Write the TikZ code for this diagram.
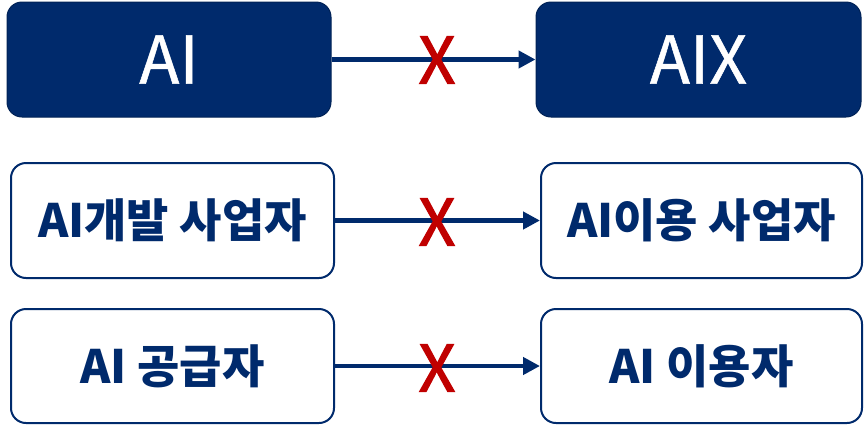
\documentclass[tikz,border=0pt]{standalone}
\usepackage{fontspec}
\setmainfont{Noto Sans CJK KR}
\newfontfamily\krfont{Noto Sans CJK KR}
\newfontfamily\krmed[FakeBold=0.8]{Noto Sans CJK KR}
\newfontfamily\krx[FakeBold=2]{Noto Sans CJK KR}
\usetikzlibrary{arrows.meta}
\definecolor{navy}{HTML}{002A6C}
\definecolor{xred}{HTML}{C00000}
\begin{document}
\begin{tikzpicture}[x=1pt,y=-1pt,
  darkbox/.style={draw=navy!80!black,line width=1pt,fill=navy,rounded corners=15pt,text=white,font=\krmed\fontsize{66}{66}\selectfont},
  lightbox/.style={draw=navy,line width=2pt,fill=white,rounded corners=15pt,text=navy,font=\krfont\bfseries\fontsize{46}{46}\selectfont},
  conn/.style={draw=navy,line width=4.5pt,-{Triangle[length=17pt,width=17pt]}},
  xmark/.style={text=xred,font=\krx\fontsize{64}{64}\selectfont,inner sep=0pt}]
\useasboundingbox (0,0) rectangle (864,426);
\node[darkbox,minimum width=324pt,minimum height=115pt] (ai) at (169,59.5) {AI};
\node[darkbox,minimum width=325pt,minimum height=115pt] (aix) at (698.5,59.5) {AIX};
\node[lightbox,minimum width=323pt,minimum height=115pt] (dev) at (172.5,220.5) {AI개발 사업자};
\node[lightbox,minimum width=321pt,minimum height=115pt] (use) at (701.5,220.5) {AI이용 사업자};
\node[lightbox,minimum width=323pt,minimum height=114pt] (sup) at (172.5,366) {AI 공급자};
\node[lightbox,minimum width=321pt,minimum height=114pt] (usr) at (701.5,366) {AI 이용자};
\draw[conn] (ai) -- (aix);
\draw[conn] (dev) -- (use);
\draw[conn] (sup) -- (usr);
\node[xmark] (x1) at (437,60) {X};
\node[xmark] (x2) at (437,222) {X};
\node[xmark] (x3) at (437,368) {X};
\end{tikzpicture}
\end{document}
